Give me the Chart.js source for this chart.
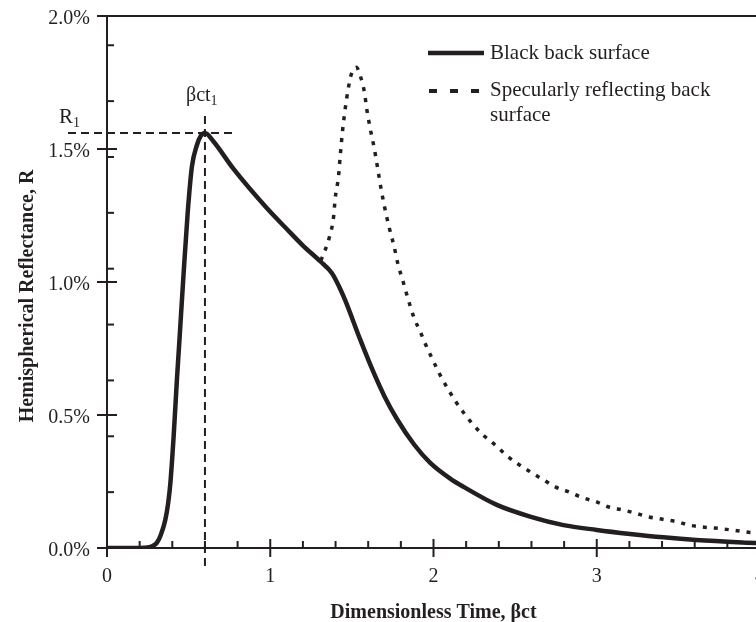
<!DOCTYPE html>
<html>
<head>
<meta charset="utf-8">
<script src="https://cdn.jsdelivr.net/npm/chart.js@4"></script>
<style>
  html, body { margin: 0; padding: 0; background: #fff; overflow: hidden; }
</style>
</head>
<body>
<canvas id="chart1" width="782" height="622"></canvas>
<script>
// black back surface
let timeBlack = [0, 0.1, 0.2, 0.25, 0.28, 0.306, 0.33, 0.357, 0.375, 0.388, 0.408, 0.428, 0.445, 0.469, 0.494, 0.52, 0.551, 0.575, 0.6,
  0.65, 0.775, 0.98, 1.1, 1.2, 1.306, 1.378, 1.42, 1.46, 1.55, 1.633, 1.7, 1.776, 1.88, 1.98, 2.1, 2.184, 2.388, 2.592, 2.796,
  3.0, 3.204, 3.408, 3.61, 3.92, 4.0]
let reflBlack = [0, 0, 0, 0.002, 0.008, 0.02, 0.05, 0.105, 0.17, 0.243, 0.418, 0.63, 0.794, 1.03, 1.258, 1.433, 1.515, 1.55, 1.56,
  1.53, 1.425, 1.277, 1.2, 1.137, 1.078, 1.033, 0.985, 0.93, 0.785, 0.66, 0.57, 0.485, 0.39, 0.32, 0.262, 0.23, 0.162, 0.118, 0.086,
  0.068, 0.053, 0.04, 0.03, 0.02, 0.018]

// specularly reflecting back surface
let timeSpec = [1.31, 1.363, 1.388, 1.398, 1.418, 1.429, 1.443, 1.459, 1.476, 1.496, 1.527, 1.555, 1.576, 1.592, 1.612, 1.637,
  1.657, 1.68, 1.704, 1.731, 1.759, 1.78, 1.812, 1.878, 1.919, 1.953, 1.994, 2.041, 2.092, 2.139, 2.19, 2.241, 2.302, 2.382,
  2.449, 2.52, 2.602, 2.674, 2.749, 2.82, 2.914, 2.996, 3.074, 3.159, 3.237, 3.31, 3.404, 3.49, 3.568, 3.645, 3.724, 3.796,
  3.86, 3.94, 4.0]
let reflSpec = [1.08, 1.17, 1.245, 1.315, 1.396, 1.477, 1.569, 1.65, 1.72, 1.78, 1.807, 1.768, 1.716, 1.647, 1.578, 1.503,
  1.431, 1.346, 1.271, 1.199, 1.133, 1.073, 1.005, 0.87, 0.813, 0.763, 0.709, 0.65, 0.594, 0.548, 0.504, 0.465, 0.426, 0.385,
  0.347, 0.315, 0.283, 0.256, 0.229, 0.213, 0.189, 0.174, 0.154, 0.143, 0.131, 0.118, 0.108, 0.099, 0.086, 0.079, 0.075, 0.07,
  0.065, 0.058, 0.055]

let seriesNames = ["Black back surface", "Specularly reflecting back surface"]
let peakTime = 0.6   // βct1
let peakRefl = 1.56  // R1

let ink = '#231f20'
let serif = '"Liberation Serif", "Times New Roman", serif'

function toPoints(xs, ys) {
  return xs.map((v, i) => ({ x: v, y: ys[i] }))
}

function hline(ctx, x1, y1, x2, y2) {
  ctx.beginPath()
  ctx.moveTo(x1, y1)
  ctx.lineTo(x2, y2)
  ctx.stroke()
}

// ticks, frame, reference lines, legend and axis titles
let decor = {
  id: 'decor',
  afterDraw(chart) {
    let ctx = chart.ctx
    let a = chart.chartArea
    let x = chart.scales.x
    let y = chart.scales.y
    ctx.save()
    ctx.strokeStyle = ink
    ctx.fillStyle = ink
    ctx.lineWidth = 2
    ctx.lineCap = 'butt'

    // frame top / right
    hline(ctx, a.left - 10, a.top, a.right, a.top)
    hline(ctx, a.right, a.top, a.right, a.bottom)

    // x ticks
    for (let v = 0; v <= 4.001; v += 0.2) {
      let px = x.getPixelForValue(v)
      let major = Math.abs(v - Math.round(v)) < 0.01
      if (major) hline(ctx, px, a.bottom - 9, px, a.bottom + 9)
      else hline(ctx, px, a.bottom - 7, px, a.bottom)
    }
    // y ticks
    for (let v = 0; v <= 2.001; v += 0.5) {
      let py = y.getPixelForValue(v)
      hline(ctx, a.left - 10, py, a.left + 10, py)
    }
    for (let i = 1; i <= 9; i++) {
      let py = y.getPixelForValue(i * 0.21)
      hline(ctx, a.left, py, a.left + 7, py)
    }

    // reference lines through the peak
    ctx.setLineDash([8, 5])
    ctx.lineWidth = 2
    let px0 = x.getPixelForValue(peakTime)
    let py0 = y.getPixelForValue(peakRefl)
    hline(ctx, a.left - 39, py0, px0 + 32, py0)
    hline(ctx, px0, py0 - 17, px0, a.bottom + 22)
    ctx.setLineDash([])

    // peak labels
    ctx.textBaseline = 'alphabetic'
    ctx.textAlign = 'left'
    ctx.font = '20px ' + serif
    ctx.fillText('βct', px0 - 19, py0 - 32)
    let w = ctx.measureText('βct').width
    ctx.font = '14px ' + serif
    ctx.fillText('1', px0 - 19 + w, py0 - 28)
    ctx.font = '21px ' + serif
    ctx.fillText('R', 59, py0 - 10)
    w = ctx.measureText('R').width
    ctx.font = '14px ' + serif
    ctx.fillText('1', 59 + w, py0 - 6)

    // legend
    let ds = chart.data.datasets
    ctx.font = '21px ' + serif
    ctx.textBaseline = 'middle'
    ctx.lineWidth = ds[0].borderWidth
    hline(ctx, 428, 53, 484, 53)
    ctx.fillText(ds[0].label, 490, 53)
    ctx.setLineDash([8, 13])
    ctx.lineWidth = 4
    hline(ctx, 429, 91, 480, 91)
    ctx.setLineDash([])
    ctx.fillText('Specularly reflecting back', 490, 90)
    ctx.fillText('surface', 490, 115)

    // axis titles
    ctx.font = 'bold 20px ' + serif
    ctx.textAlign = 'center'
    ctx.textBaseline = 'alphabetic'
    ctx.fillText('Dimensionless Time, βct', (a.left + a.right) / 2, 618)
    ctx.translate(33, 296)
    ctx.rotate(-Math.PI / 2)
    ctx.fillText('Hemispherical Reflectance, R', 0, 0)
    ctx.restore()
  }
}

new Chart(document.getElementById("chart1"), {
  type: 'line',
  data: {
    datasets: [
      {
        label: seriesNames[0],
        data: toPoints(timeBlack, reflBlack),
        borderColor: ink,
        borderWidth: 4.5,
        pointRadius: 0,
        cubicInterpolationMode: 'monotone'
      },
      {
        label: seriesNames[1],
        data: toPoints(timeSpec, reflSpec),
        borderColor: ink,
        borderWidth: 3.5,
        borderDash: [4, 7],
        pointRadius: 0,
        cubicInterpolationMode: 'monotone'
      }
    ]
  },
  options: {
    responsive: false,
    animation: false,
    devicePixelRatio: 1,
    layout: { padding: { top: 16, right: 10, left: 0, bottom: 0 } },
    plugins: {
      legend: { display: false },
      tooltip: { enabled: false }
    },
    scales: {
      x: {
        type: 'linear',
        min: 0,
        max: 4,
        afterFit: (s) => { s.height = 74 },
        grid: { display: false, drawTicks: false },
        border: { display: true, color: ink, width: 2 },
        ticks: {
          stepSize: 1,
          padding: 17,
          color: ink,
          font: { family: serif, size: 20 },
          callback: (v) => String(v)
        }
      },
      y: {
        min: 0,
        max: 2,
        afterFit: (s) => { s.width = 107; s.paddingTop = 0; s.paddingBottom = 0 },
        grid: { display: false, drawTicks: false },
        border: { display: true, color: ink, width: 2 },
        ticks: {
          stepSize: 0.5,
          padding: 17,
          labelOffset: 3,
          color: ink,
          font: { family: serif, size: 20 },
          callback: (v) => v.toFixed(1) + '%'
        }
      }
    }
  },
  plugins: [decor]
});
</script>
</body>
</html>
